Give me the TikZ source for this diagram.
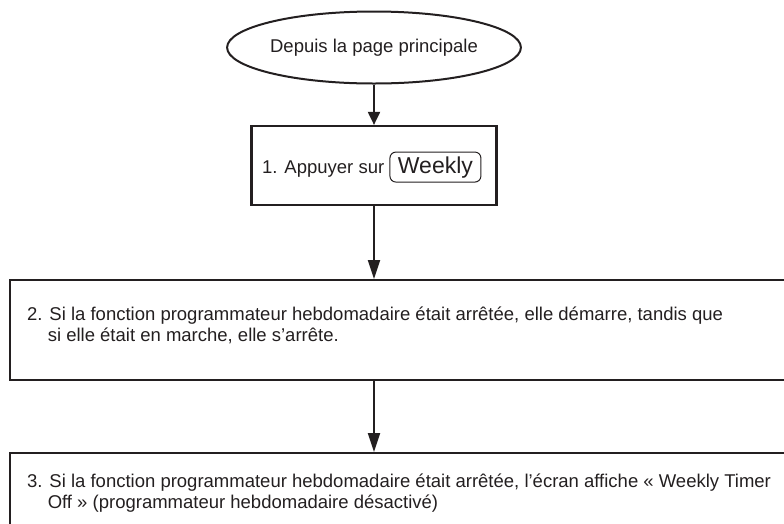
\documentclass[tikz,border=0pt]{standalone}
\usepackage{fontspec}
\setmainfont{Liberation Sans}
\usetikzlibrary{arrows.meta,shapes.geometric}
\definecolor{ink}{HTML}{231F20}
\begin{document}
\begin{tikzpicture}[x=1pt,y=-1pt,
  every node/.style={text=ink},
  startshape/.style={ellipse, draw=ink, line width=2pt, minimum width=278pt, minimum height=72pt, inner sep=0pt, font=\fontsize{18.5}{21}\selectfont},
  stepbox/.style={draw=ink, line width=2.2pt, rectangle, inner sep=0pt},
  body/.style={font=\fontsize{18.5}{21}\selectfont, inner sep=0pt, anchor=base west},
  keybox/.style={draw=ink, line width=1pt, rounded corners=6pt, font=\fontsize{23}{23}\selectfont, inner xsep=8pt, inner ysep=0pt, minimum height=30pt, anchor=base west},
  flow/.style={draw=ink, line width=2pt, -{Triangle[length=19pt,width=12pt]}},
  shortflow/.style={draw=ink, line width=2pt, -{Triangle[length=13pt,width=12pt]}}]
\useasboundingbox (0,0) rectangle (784,523);
\clip (0,0) rectangle (784,523);
\node[startshape] (start) at (374,47.5) {Depuis la page principale};
\node[stepbox, minimum width=245pt, minimum height=79pt] (b1) at (374,165.5) {};
\node[body] (t1) at (262,173) {1. Appuyer sur};
\node[keybox] (wk) at ([xshift=5pt]t1.base east) {Weekly};
\node[stepbox, minimum width=800pt, minimum height=100pt, anchor=north west] (b2) at (8.5,279) {};
\node[body] (t2a) at (27,320) {2. Si la fonction programmateur hebdomadaire était arrêtée, elle démarre, tandis que};
\node[body] (t2b) at (27,341) {\hphantom{2.\ }si elle était en marche, elle s’arrête.};
\node[stepbox, minimum width=800pt, minimum height=100pt, anchor=north west] (b3) at (8.5,452) {};
\node[body] (t3a) at (27,487) {3. Si la fonction programmateur hebdomadaire était arrêtée, l’écran affiche « Weekly Timer};
\node[body] (t3b) at (27,508) {\hphantom{3.\ }Off » (programmateur hebdomadaire désactivé)};
\draw[shortflow] (start.south) -- (b1.north);
\draw[flow] (b1.south) -- (b1.south |- b2.north);
\draw[flow] (b1.south |- b2.south) -- (b1.south |- b3.north);
\end{tikzpicture}
\end{document}
